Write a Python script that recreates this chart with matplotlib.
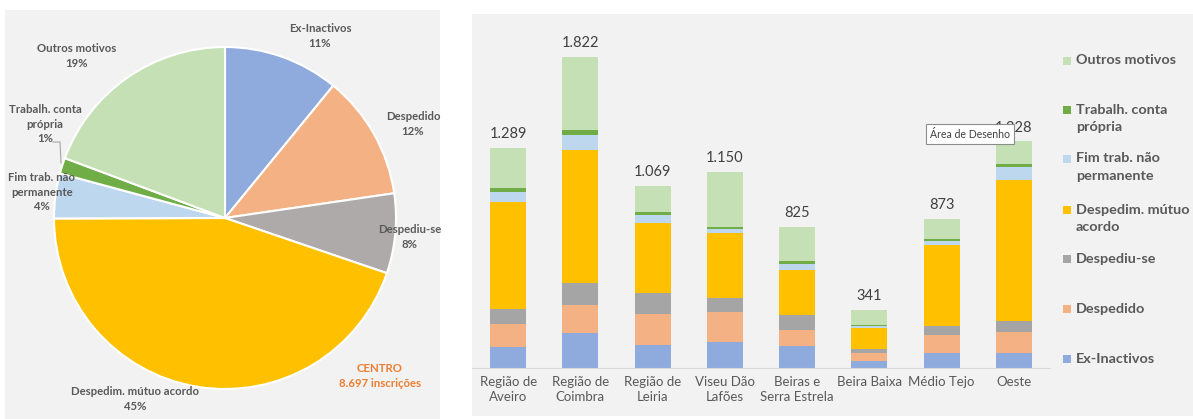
import matplotlib
matplotlib.use('agg')
import matplotlib.pyplot as plt
from matplotlib.patches import Rectangle

plt.rcParams['font.family'] = ['Lato', 'DejaVu Sans']

# data
regions = ['Região de\nAveiro', 'Região de\nCoimbra', 'Região de\nLeiria', 'Viseu Dão\nLafões',
           'Beiras e\nSerra Estrela', 'Beira Baixa', 'Médio Tejo', 'Oeste']
ex_inactivos = [123, 204, 133, 153, 127, 39, 85, 85]
despedido = [133, 163, 184, 174, 96, 45, 106, 123]
despediu_se = [90, 131, 120, 84, 85, 25, 53, 68]
mutuo_acordo = [628, 777, 414, 378, 268, 123, 475, 827]
fim_trab = [60, 90, 45, 27, 33, 14, 27, 73]
trab_conta = [22, 29, 16, 12, 16, 4, 10, 21]
outros = [233, 428, 157, 322, 200, 91, 117, 131]

legend_labels = ['Ex-Inactivos', 'Despedido', 'Despediu-se', 'Despedim. mútuo\nacordo',
                 'Fim trab. não\npermanente', 'Trabalh. conta\nprópria', 'Outros motivos']
pie_labels = ['Ex-Inactivos', 'Despedido', 'Despediu-se', 'Despedim. mútuo acordo',
              'Fim trab. não\npermanente', 'Trabalh. conta\nprópria', 'Outros motivos']
bar_colors = ['#8FAADC', '#F4B183', '#A5A5A5', '#FFC000', '#BDD7EE', '#70AD47', '#C5E0B4']
pie_colors = ['#8FAADC', '#F4B183', '#AEAAAA', '#FFC000', '#BDD7EE', '#70AD47', '#C5E0B4']

all_series = [ex_inactivos, despedido, despediu_se, mutuo_acordo, fim_trab, trab_conta, outros]

W, H = 1193, 419
fig = plt.figure(figsize=(W / 100, H / 100), dpi=100)
fig.patch.set_facecolor('white')

# panel backgrounds
fig.add_artist(Rectangle((5 / W, 0), 435 / W, 409 / H, transform=fig.transFigure,
                         fc='#F2F2F2', ec='none', zorder=-5))
fig.add_artist(Rectangle((472 / W, 3 / H), (1193 - 472) / W, (416 - 14) / H, transform=fig.transFigure,
                         fc='#F2F2F2', ec='none', zorder=-5))

gray_txt = '#595959'

# ---------- pie ----------
totals = [sum(s) for s in all_series]
grand = sum(totals)
ax1 = fig.add_axes([5 / W, 0, 435 / W, 409 / H])
ax1.pie(totals, colors=pie_colors, startangle=90, counterclock=False,
        center=(225, 201), radius=171, frame=True,
        wedgeprops=dict(edgecolor='white', linewidth=1.5))
ax1.set_xlim(5, 440)
ax1.set_ylim(0, 409)
ax1.set_aspect('auto')
ax1.axis('off')

# label positions (pixel coords from top-left)
pie_label_pos = [(320, 36), (413, 124), (410, 237), (135, 399), (42, 192), (45, 124), (77, 56)]
for lab, tot, (px, py) in zip(pie_labels, totals, pie_label_pos):
    pct = round(tot / grand * 100)
    ax1.text(px, 419 - py, f'{lab}\n{pct}%', ha='center', va='center', fontsize=8.2,
             fontweight='bold', color=gray_txt, linespacing=1.35)
# leader line for the small slice
ax1.plot([53, 60, 61], [419 - 142, 419 - 142, 419 - 163], color='#A6A6A6', lw=0.8)
ax1.text(380, 419 - 376, f'CENTRO\n{grand:,}'.replace(',', '.') + ' inscrições', ha='center', va='center',
         fontsize=8.2, fontweight='bold', color='#ED7D31', linespacing=1.35)

# ---------- stacked bars ----------
ax2 = fig.add_axes([472 / W, (419 - 367.7) / H, 578 / W, 340.8 / H])
ax2.patch.set_visible(False)
x = list(range(len(regions)))
bottom = [0] * len(regions)
for vals, col in zip(all_series, bar_colors):
    ax2.bar(x, vals, width=0.5, bottom=bottom, color=col, edgecolor='none')
    bottom = [b + v for b, v in zip(bottom, vals)]
for xi, tot in zip(x, bottom):
    ax2.annotate(f'{tot:,}'.replace(',', '.'), (xi, tot), xytext=(0, 10), textcoords='offset points',
                 ha='center', va='center', fontsize=10.5, color='#404040')
ax2.set_xlim(-0.5, 7.5)
ax2.set_ylim(0, 2000)
ax2.set_yticks([])
ax2.set_xticks(x)
ax2.set_xticklabels(regions, fontsize=9.5, color=gray_txt, linespacing=1.3)
ax2.tick_params(axis='x', length=0, pad=6)
for s in ['top', 'right', 'left']:
    ax2.spines[s].set_visible(False)
ax2.spines['bottom'].set_color('#D9D9D9')

# legend (top to bottom)
leg_y = [61, 110, 159, 210, 259, 309, 359]
for i, yy in enumerate(leg_y):
    k = len(all_series) - 1 - i
    fig.add_artist(Rectangle((1063 / W, (419 - yy - 4) / H), 8 / W, 8 / H, transform=fig.transFigure,
                             fc=bar_colors[k], ec='none'))
    fig.text(1076 / W, (419 - yy + 6.5) / H, legend_labels[k], ha='left', va='top', fontsize=10.4,
             fontweight='bold', color=gray_txt, linespacing=1.55)

# tooltip overlay
fig.text(970 / W, (419 - 134) / H, 'Área de Desenho', ha='center', va='center', fontsize=7.6,
         color='#404040', zorder=10,
         bbox=dict(boxstyle='square,pad=0.4', fc='white', ec='#8C8C8C', lw=0.8))

fig.savefig('out.png', dpi=100)
